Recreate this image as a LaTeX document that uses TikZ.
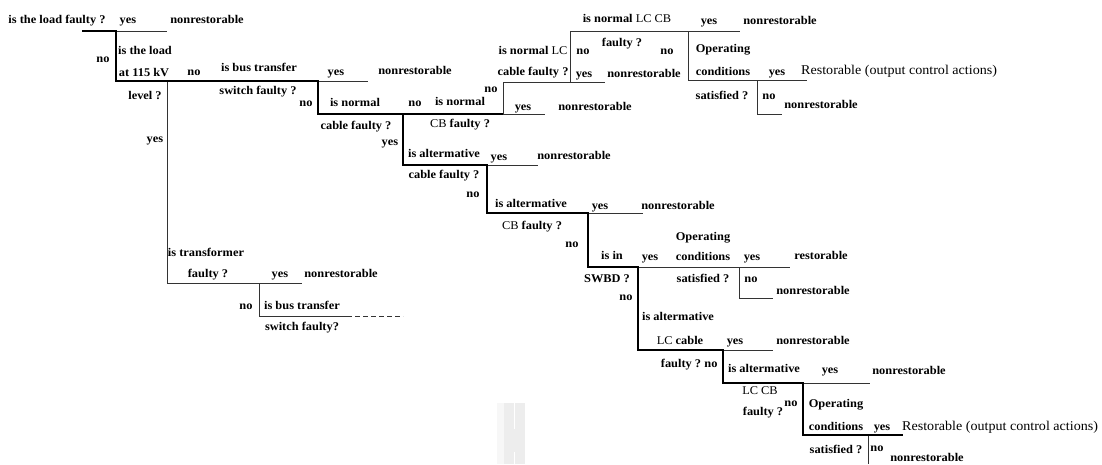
\documentclass[tikz,border=0pt]{standalone}
\usepackage{fontspec}
\setmainfont{Liberation Serif}[FakeStretch=1.05]
\newcommand\rg[1]{{\mdseries #1}}
\begin{document}
\begin{tikzpicture}[x=1pt,y=-1pt,
  lbl/.style={font=\bfseries\fontsize{11.8}{13}\selectfont, inner sep=0pt, text height=7.8pt, text depth=2pt},
  rst/.style={font=\mdseries\fontsize{13.4}{15}\selectfont, inner sep=0pt, text height=8.3pt, text depth=2.5pt, anchor=west},
  mainpath/.style={line width=2.3pt, line join=miter},
  branch/.style={line width=1pt, draw=black!80},
  endpath/.style={line width=1pt, draw=black!80, dashed, dash pattern=on 5pt off 3pt}
]
\useasboundingbox (0,0) rectangle (1102,464);

% faint mark near the bottom edge
\fill[black!3] (497,403) rectangle (504,464);
\fill[black!7] (504,403) rectangle (525,464);
\draw[white, line width=1.2pt] (514.5,403) -- (514.5,429) (514.5,452) -- (514.5,464);

% junction points of the decision tree
\coordinate (q1) at (82,31);
\coordinate (j1) at (116,31);
\coordinate (j1y) at (167,31);
\coordinate (k1) at (116,81);
\coordinate (j2) at (167,81);
\coordinate (t1) at (167,283);
\coordinate (t1y) at (302,283);
\coordinate (t2) at (259,283);
\coordinate (t2n) at (259,316);
\coordinate (t2e) at (347,316);
\coordinate (t2d) at (403,316);
\coordinate (j3) at (318,81);
\coordinate (j3y) at (368,81);
\coordinate (k3) at (318,114);
\coordinate (j4) at (403,114);
\coordinate (j5) at (503,114);
\coordinate (j5y) at (545,114);
\coordinate (u5) at (503,82);
\coordinate (j6) at (570,82);
\coordinate (j6y) at (605,82);
\coordinate (u6) at (570,31);
\coordinate (j7) at (688,31);
\coordinate (j7y) at (740,31);
\coordinate (u7) at (688,80);
\coordinate (j8) at (757,80);
\coordinate (j8y) at (807,80);
\coordinate (u8) at (757,114);
\coordinate (j8n) at (782,114);
\coordinate (k4) at (403,165);
\coordinate (j9) at (487,165);
\coordinate (j9y) at (538,165);
\coordinate (k9) at (487,213);
\coordinate (j10) at (588,213);
\coordinate (j10y) at (643,213);
\coordinate (k10) at (588,267);
\coordinate (j11) at (638,267);
\coordinate (j12) at (739,267);
\coordinate (j12y) at (790,267);
\coordinate (u12) at (739,298);
\coordinate (j12n) at (773,298);
\coordinate (k11) at (638,350);
\coordinate (j13) at (723,350);
\coordinate (j13y) at (773,350);
\coordinate (k13) at (723,383);
\coordinate (j14) at (803,383);
\coordinate (j14y) at (870,383);
\coordinate (k14) at (803,435);
\coordinate (j15) at (868,435);
\coordinate (j15y) at (903,435);
\coordinate (u15) at (868,464);

% side branches
\draw[branch] (j1) -- (j1y);
\draw[branch] (j2) -- (t1) -- (t1y);
\draw[branch] (t2) -- (t2n) -- (t2e);
\draw[endpath] (t2e) -- (t2d);
\draw[branch] (j3) -- (j3y);
\draw[branch] (j5) -- (j5y);
\draw[branch] (j5) -- (u5) -- (j6y);
\draw[branch] (j6) -- (u6) -- (j7y);
\draw[branch] (j7) -- (u7) -- (j8y);
\draw[branch] (j8) -- (u8) -- (j8n);
\draw[branch] (j9) -- (j9y);
\draw[branch] (j10) -- (j10y);
\draw[branch] (j11) -- (j12y);
\draw[branch] (j12) -- (u12) -- (j12n);
\draw[branch] (j13) -- (j13y);
\draw[branch] (j14) -- (j14y);
\draw[branch] (j15) -- (u15);

% decision path
\draw[mainpath] (q1) -- (j1) -- (k1) -- (j3) -- (k3) -- (j4) -- (k4) -- (j9) -- (k9)
  -- (j10) -- (k10) -- (j11) -- (k11) -- (j13) -- (k13) -- (j14) -- (k14) -- (j15y);
\draw[mainpath] (j4) -- (j5);

% labels
\node[lbl] (a1) at (57,21) {is the load faulty ?};
\node[lbl] (a2) at (128,21) {yes};
\node[lbl] (a3) at (207,21) {nonrestorable};
\node[lbl] (a4) at (103,60) {no};
\node[lbl] (a5) at (145,52) {is the load};
\node[lbl] (a6) at (144,74) {at 115 kV};
\node[lbl] (a7) at (145,97) {level ?};
\node[lbl] (a8) at (155,140) {yes};
\node[lbl] (b1) at (194,73) {no};
\node[lbl] (b2) at (259,69) {is bus transfer};
\node[lbl] (b3) at (258,92) {switch faulty ?};
\node[lbl] (b4) at (336,73) {yes};
\node[lbl] (b5) at (415,72) {nonrestorable};
\node[lbl] (c1) at (306,104) {no};
\node[lbl] (c2) at (355,104) {is normal};
\node[lbl] (c3) at (356,127) {cable faulty ?};
\node[lbl] (c4) at (415,104) {no};
\node[lbl] (c5) at (460,103) {is normal};
\node[lbl] (c6) at (460,125) {\rg{CB} faulty ?};
\node[lbl] (c7) at (491,90) {no};
\node[lbl] (c8) at (390,143) {yes};
\node[lbl] (c9) at (523,108) {yes};
\node[lbl] (c10) at (595,108) {nonrestorable};
\node[lbl] (d1) at (533,52) {is normal \rg{LC}};
\node[lbl] (d2) at (533,73) {cable faulty ?};
\node[lbl] (d3) at (583,52) {no};
\node[lbl] (d4) at (584,75) {yes};
\node[lbl] (d5) at (644,75) {nonrestorable};
\node[lbl] (d6) at (627,20) {is normal \rg{LC CB}};
\node[lbl] (d7) at (622,44) {faulty ?};
\node[lbl] (d8) at (709,22) {yes};
\node[lbl] (d9) at (780,22) {nonrestorable};
\node[lbl] (d10) at (667,52) {no};
\node[lbl] (e1) at (723,50) {Operating};
\node[lbl] (e2) at (723,73) {conditions};
\node[lbl] (e3) at (722,97) {satisfied ?};
\node[lbl] (e4) at (777,73) {yes};
\node[rst] (e5) at (801,72) {Restorable (output control actions)};
\node[lbl] (e6) at (769,97) {no};
\node[lbl] (e7) at (821,106) {nonrestorable};
\node[lbl] (f1) at (444,155) {is altermative};
\node[lbl] (f2) at (499,158) {yes};
\node[lbl] (f3) at (574,157) {nonrestorable};
\node[lbl] (f4) at (444,176) {cable faulty ?};
\node[lbl] (f5) at (473,195) {no};
\node[lbl] (g1) at (531,205) {is altermative};
\node[lbl] (g2) at (600,207) {yes};
\node[lbl] (g3) at (678,207) {nonrestorable};
\node[lbl] (g4) at (532,227) {\rg{CB} faulty ?};
\node[lbl] (g5) at (572,245) {no};
\node[lbl] (h1) at (612,257) {is in};
\node[lbl] (h2) at (650,258) {yes};
\node[lbl] (h3) at (703,238) {Operating};
\node[lbl] (h4) at (703,258) {conditions};
\node[lbl] (h5) at (703,280) {satisfied ?};
\node[lbl] (h6) at (607,280) {SWBD ?};
\node[lbl] (h7) at (626,298) {no};
\node[lbl] (h8) at (752,258) {yes};
\node[lbl] (h9) at (821,257) {restorable};
\node[lbl] (h10) at (751,280) {no};
\node[lbl] (h11) at (813,292) {nonrestorable};
\node[lbl] (m1) at (678,318) {is altermative};
\node[lbl] (m2) at (680,342) {\rg{LC} cable};
\node[lbl] (m3) at (735,342) {yes};
\node[lbl] (m4) at (813,342) {nonrestorable};
\node[lbl] (m5) at (681,365) {faulty ?};
\node[lbl] (m6) at (711,365) {no};
\node[lbl] (n1) at (764,370) {is altermative};
\node[lbl] (n2) at (830,371) {yes};
\node[lbl] (n3) at (909,372) {nonrestorable};
\node[lbl] (n4) at (760,392) {\rg{LC CB}};
\node[lbl] (n5) at (763,413) {faulty ?};
\node[lbl] (n6) at (791,404) {no};
\node[lbl] (p1) at (836,405) {Operating};
\node[lbl] (p2) at (836,428) {conditions};
\node[lbl] (p3) at (882,428) {yes};
\node[rst] (p4) at (902,428) {Restorable (output control actions)};
\node[lbl] (p5) at (836,451) {satisfied ?};
\node[lbl] (p6) at (877,449) {no};
\node[lbl] (p7) at (927,459) {nonrestorable};
\node[lbl] (r1) at (206,254) {is transformer};
\node[lbl] (r2) at (208,275) {faulty ?};
\node[lbl] (r3) at (280,275) {yes};
\node[lbl] (r4) at (341,275) {nonrestorable};
\node[lbl] (r5) at (246,307) {no};
\node[lbl] (r6) at (302,307) {is bus transfer};
\node[lbl] (r7) at (302,328) {switch faulty?};
\end{tikzpicture}
\end{document}
